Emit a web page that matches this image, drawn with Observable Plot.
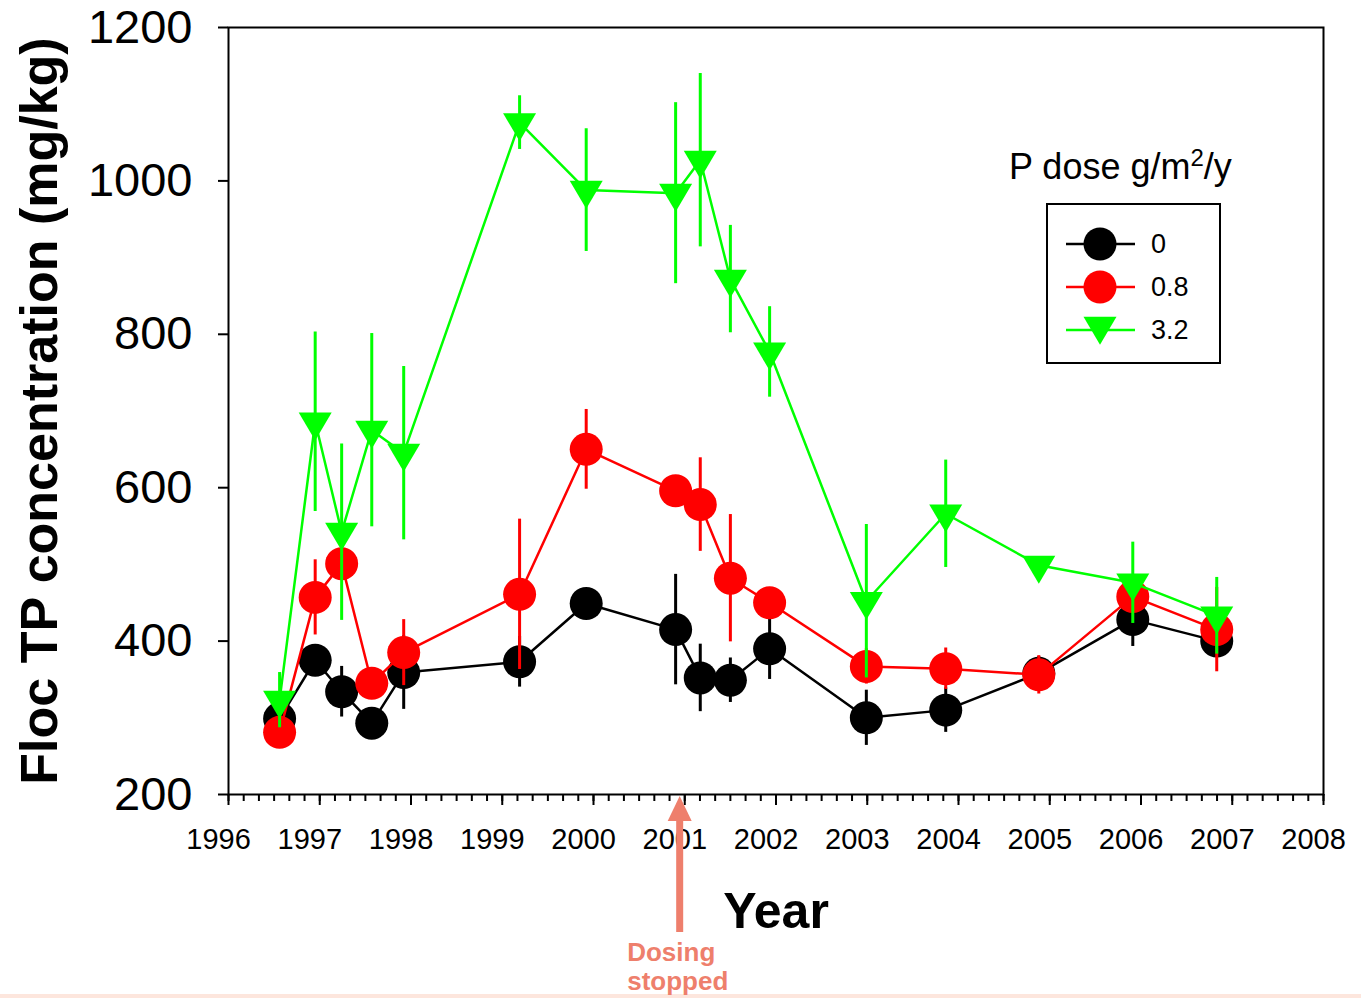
<!DOCTYPE html>
<html><head><meta charset="utf-8">
<script src="https://cdn.jsdelivr.net/npm/d3@7"></script>
<script src="https://cdn.jsdelivr.net/npm/@observablehq/plot@0.6"></script>
<style>
html,body{margin:0;padding:0;background:#fff;overflow:hidden}
#strip{height:4px;background:#fde6dd}
</style></head><body><div id="chart"></div><div id="strip"></div>
<script>
// Sampling dates (decimal years)
const years = [1996.56, 1996.95, 1997.24, 1997.57, 1997.92, 1999.19, 1999.92, 2000.90, 2001.17, 2001.50, 2001.93, 2002.99, 2003.86, 2004.88, 2005.91, 2006.83];
// P dose 0 g/m2/y
const dose0    = [299, 375, 334, 293, 359, 373, 449, 415, 352, 349, 390, 300, 310, 358, 428, 400];
const dose0Err = [15, 15, 33, 12, 48, 33, 15, 72, 44, 29, 40, 36, 29, 22, 35, 15];
// P dose 0.8 g/m2/y
const dose08    = [281, 457, 501, 345, 385, 461, 650, 596, 578, 482, 450, 367, 364, 356, 458, 415];
const dose08Err = [12, 49, 15, 12, 43, 98, 52, 15, 61, 83, 15, 23, 27, 25, 15, 55];
// P dose 3.2 g/m2/y
const dose32    = [323, 686, 542, 675, 645, 1076, 988, 984, 1027, 872, 777, 452, 566, 499, 476, 433];
const dose32Err = [36, 117, 115, 126, 113, 35, 80, 118, 113, 70, 59, 100, 70, 10, 53, 50];

const seriesNames = ["0", "0.8", "3.2"];
const seriesColors = ["#000000", "#ff0000", "#00ff00"];
const yTicks = [200, 400, 600, 800, 1000, 1200];
const xTicks = [1996, 1997, 1998, 1999, 2000, 2001, 2002, 2003, 2004, 2005, 2006, 2007, 2008];
const minorPerYear = 6;
const dosingStopped = 2000.95;
const legendTitle = "P dose g/m";

const minorTicks = d3.range(0, (2008 - 1996) * minorPerYear + 1).map(i => 1996 + i / minorPerYear);

function rows(vals, errs, name) {
  return years.map((yr, i) => ({year: yr, value: vals[i], err: errs[i], series: name}));
}
const data = [rows(dose0, dose0Err, "0"), rows(dose08, dose08Err, "0.8"), rows(dose32, dose32Err, "3.2")];

const triangleDown = {
  draw(ctx, size) {
    const r = Math.sqrt(size / Math.PI);
    ctx.moveTo(-r, -0.565 * r);
    ctx.lineTo(r, -0.565 * r);
    ctx.lineTo(0, 1.13 * r);
    ctx.closePath();
  }
};
const symbols = ["circle", "circle", triangleDown];

const W = 1361, H = 994, mL = 228, mR = 38, mT = 27, mB = 200;

const seriesMarks = data.flatMap((d, k) => [
  Plot.line(d, {x: "year", y: "value", stroke: seriesColors[k], strokeWidth: 2.5}),
  Plot.ruleX(d, {x: "year", y1: r => r.value - r.err, y2: r => r.value + r.err, stroke: seriesColors[k], strokeWidth: 3}),
  Plot.dot(d, {x: "year", y: "value", r: 16.5, fill: seriesColors[k], symbol: symbols[k]})
]);

const plot = Plot.plot({
  width: W, height: H,
  marginLeft: mL, marginRight: mR, marginTop: mT, marginBottom: mB,
  style: {fontFamily: "'Liberation Sans', Arial, sans-serif", background: "white", color: "black", overflow: "visible"},
  x: {domain: [1996, 2008]},
  y: {domain: [200, 1200]},
  marks: [
    Plot.axisX(minorTicks, {tickSize: 7, fill: "none", strokeWidth: 2}),
    Plot.axisX(xTicks, {tickSize: 11, fill: "none", strokeWidth: 2}),
    Plot.axisX(xTicks, {tickSize: 0, tickPadding: 34, dx: -10, fontSize: 29, tickFormat: d => String(d), label: null}),
    Plot.axisY(yTicks, {tickSize: 10, tickPadding: 26, fontSize: 47, strokeWidth: 2, tickFormat: d => String(d), label: null}),
    Plot.frame({stroke: "black", strokeWidth: 2}),
    ...seriesMarks,
    Plot.text(["Floc TP concentration (mg/kg)"], {frameAnchor: "left", textAnchor: "middle", lineAnchor: "middle", rotate: -90, dx: -188, fontSize: 52, fontWeight: "bold", fill: "black"}),
    Plot.text(["Year"], {frameAnchor: "bottom", lineAnchor: "middle", dy: 117, fontSize: 50, fontWeight: "bold", fill: "black"}),
    Plot.text([dosingStopped], {x: d => d, frameAnchor: "bottom", text: () => "Dosing\nstopped", lineAnchor: "top", textAnchor: "start", dx: -53, dy: 146, lineHeight: 1.12, fontSize: 26, fontWeight: "bold", fill: "#ee7f6c"})
  ]
});
document.getElementById("chart").appendChild(plot);

// Arrow marking end of dosing, positioned through the x scale
const svg = d3.select(plot);
const xa = plot.scale("x").apply(dosingStopped);
const yb = H - mB;
const arrowColor = "#ee7f6c";
svg.append("rect").attr("x", xa - 3.5).attr("y", yb + 24).attr("width", 7).attr("height", 114).attr("fill", arrowColor);
svg.append("path").attr("d", `M${xa - 12},${yb + 27}L${xa + 12},${yb + 27}L${xa},${yb + 2}Z`).attr("fill", arrowColor);

// Legend
const lg = svg.append("g").attr("font-family", "'Liberation Sans', Arial, sans-serif").attr("text-anchor", "start");
const title = lg.append("text").attr("x", 1009).attr("y", 179).attr("font-size", 36).attr("fill", "black").attr("text-anchor", "start");
title.append("tspan").text(legendTitle);
title.append("tspan").attr("dy", -13).attr("font-size", 24).text("2");
title.append("tspan").attr("dy", 13).text("/y");
lg.append("rect").attr("x", 1047).attr("y", 204).attr("width", 173).attr("height", 159).attr("fill", "white").attr("stroke", "black").attr("stroke-width", 2);
seriesNames.forEach((name, k) => {
  const cy = 244 + k * 43;
  lg.append("line").attr("x1", 1066).attr("x2", 1135).attr("y1", cy).attr("y2", cy).attr("stroke", seriesColors[k]).attr("stroke-width", 2.5);
  const sym = d3.symbol(symbols[k] === "circle" ? d3.symbolCircle : symbols[k], Math.PI * 16.5 * 16.5);
  lg.append("path").attr("d", sym()).attr("transform", `translate(1100,${k === 2 ? cy - 4 : cy})`).attr("fill", seriesColors[k]);
  lg.append("text").attr("x", 1151).attr("y", cy).attr("dy", "0.35em").attr("font-size", 27).attr("fill", "black").attr("text-anchor", "start").text(name);
});
</script>
</body></html>
